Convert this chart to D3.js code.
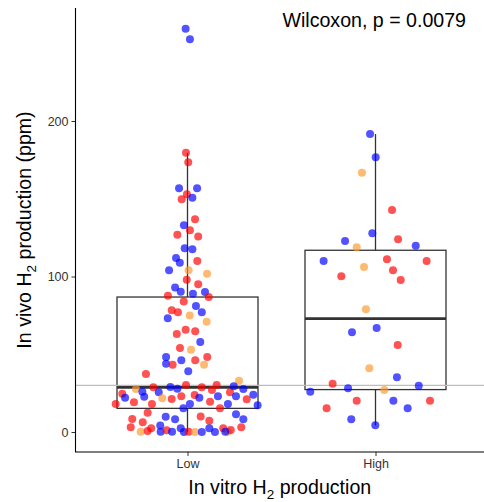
<!DOCTYPE html>
<html>
<head>
<meta charset="utf-8">
<script src="https://cdn.jsdelivr.net/npm/d3@7/dist/d3.min.js"></script>
<style>
  html, body { margin: 0; padding: 0; background: #fff; }
  svg { display: block; font-family: "Liberation Sans", Arial, Helvetica, sans-serif; }
</style>
</head>
<body>
<svg id="chart" width="484" height="502"></svg>
<script>
// Categories on the x axis
const categories = ["Low", "High"];
const yTicks = [0, 100, 200];
const threshold = 30;
const testLabel = "Wilcoxon, p = 0.0079";

// In vivo H2 (ppm) per animal, "Low" in vitro group
const lowValues = [
  259.4, 252.5, 179.6, 173.4, 156.7, 156.7, 152.9, 149.6, 150.7, 136.8,
  132.9, 129.7, 126.9, 125.8, 118.1, 117.5, 111.9, 110.0, 108.9, 104.0,
  104.0, 101.8, 97.9, 95.0, 93.0, 90.2, 88.9, 90.0, 87.7, 86.8,
  84.0, 81.0, 78.3, 77.0, 77.0, 75.0, 73.1, 70.9, 63.0, 65.8,
  64.8, 57.9, 54.0, 52.9, 48.2, 43.9, 43.3, 46.1, 46.1, 48.2,
  43.3, 39.0, 37.3, 33.0, 27.7, 24.6, 22.1, 18.0, 19.1, 25.9,
  22.7, 28.7, 18.0, 25.5, 21.7, 21.2, 28.9, 27.8, 23.0, 30.2,
  23.8, 22.1, 28.7, 19.5, 27.0, 30.2, 23.0, 15.2, 18.0, 25.5,
  29.4, 23.0, 27.7, 21.0, 24.0, 17.2, 15.2, 18.0, 8.4, 3.0,
  6.2, 12.4, 0.2, 0.6, 2.4, 9.8, 8.2, 4.1, 0.2, 1.1,
  0.2, 2.4, 0.0, 0.2, 0.0, 0.0, 10.0, 7.3, 2.4, 0.0,
  2.4, 0.2, 1.3, 11.4, 8.2, 3.0, 0.2
];
// Colour group of each "Low" animal (b, r, o)
const lowGroup = [
  "b","b","r","r","b","b","r","r","b","r",
  "b","r","r","r","b","b","b","r","b","b",
  "o","o","r","r","b","b","b","b","r","r",
  "r","b","r","r","b","o","b","o","r","r",
  "r","b","r","o","b","b","r","b","r","r",
  "o","b","r","o","o","r","b","r","r","b",
  "b","r","r","b","o","r","b","b","r","r",
  "r","b","r","r","r","r","b","r","b","r",
  "b","b","b","r","b","b","b","b","r","r",
  "r","r","o","r","r","b","b","b","b","r",
  "b","b","b","r","o","b","r","r","b","b",
  "r","o","r","b","b","r","b"
];
// Horizontal jitter of each "Low" point, in category widths
const lowJitter = [
  -0.010, 0.013, -0.008, 0.004, -0.045, 0.051, -0.003, -0.031, 0.026, 0.040,
  -0.019, 0.013, -0.054, 0.057, -0.015, 0.026, -0.061, 0.052, -0.041, -0.098,
  0.006, 0.104, -0.004, 0.057, -0.066, -0.036, 0.029, 0.093, -0.104, 0.113,
  -0.020, 0.045, -0.084, -0.051, 0.076, 0.012, -0.105, 0.102, -0.057, -0.010,
  0.041, 0.068, -0.040, 0.019, -0.114, -0.114, -0.079, -0.033, 0.041, 0.105,
  0.088, 0.004, -0.221, 0.274, -0.274, -0.347, -0.332, -0.382, -0.285, -0.240,
  -0.230, -0.182, -0.189, -0.153, -0.134, -0.084, -0.091, -0.054, -0.033, -0.008,
  0.038, 0.063, 0.076, 0.120, 0.130, 0.155, 0.162, 0.173, 0.215, 0.226,
  0.246, 0.258, 0.297, 0.315, 0.350, 0.373, -0.022, 0.013, -0.294, -0.302,
  -0.238, -0.212, -0.249, -0.212, -0.193, -0.116, -0.066, -0.145, -0.143, -0.111,
  -0.082, -0.036, -0.019, 0.006, 0.040, 0.076, 0.070, 0.116, 0.116, 0.146,
  0.190, 0.215, 0.230, 0.258, 0.297, 0.286, 0.201
];

// "High" in vitro group
const highValues = [
  191.6, 176.7, 166.8, 142.8, 127.8, 122.8, 123.9, 118.8, 119.8, 110.0,
  106.1, 111.1, 110.0, 104.0, 100.1, 97.7, 78.9, 64.1, 66.9, 55.9,
  41.0, 35.2, 31.1, 28.1, 27.0, 29.8, 25.9, 20.1, 20.1, 20.1,
  15.2, 15.2, 8.2, 4.3
];
const highGroup = [
  "b","b","o","r","b","b","r","o","b","b",
  "o","r","r","r","r","r","o","b","b","r",
  "o","b","r","b","o","b","b","r","b","r",
  "r","b","b","b"
];
const highJitter = [
  -0.029, 0.001, -0.072, 0.088, -0.017, -0.162, 0.120, -0.100, 0.214, -0.276,
  -0.061, 0.061, 0.272, 0.093, -0.182, 0.134, -0.051, -0.125, 0.006, 0.118,
  -0.033, 0.114, -0.228, -0.146, 0.047, 0.230, -0.347, -0.100, 0.095, 0.290,
  -0.260, 0.171, -0.129, -0.001
];

const groupColor = { b: "#0000ff", r: "#ff0000", o: "#ff9a2e" };

const svg = d3.select("#chart");
const panel = { left: 75.5, right: 484, top: 8, bottom: 452 };

const x = d3.scalePoint()
  .domain(categories)
  .range([74.7, 488.3])
  .padding(0.6);
const step = x.step();

const y = d3.scaleLinear().domain([0, 200]).range([432, 121]);

// Box statistics (R type-7 quantiles, 1.5 IQR whiskers)
function boxStats(values) {
  const s = values.slice().sort(d3.ascending);
  const q1 = d3.quantileSorted(s, 0.25);
  const med = d3.quantileSorted(s, 0.5);
  const q3 = d3.quantileSorted(s, 0.75);
  const iqr = q3 - q1;
  const lo = d3.min(s.filter(v => v >= q1 - 1.5 * iqr));
  const hi = d3.max(s.filter(v => v <= q3 + 1.5 * iqr));
  return { q1, med, q3, lo, hi };
}

const groups = [
  { cat: "Low", values: lowValues, colors: lowGroup, jitter: lowJitter },
  { cat: "High", values: highValues, colors: highGroup, jitter: highJitter }
];

const boxW = step * 0.75;
const boxColor = "#333333";

const gBox = svg.append("g");
groups.forEach(g => {
  const st = boxStats(g.values);
  const cx = x(g.cat);
  gBox.append("line")
    .attr("x1", cx).attr("x2", cx)
    .attr("y1", y(st.q3)).attr("y2", y(st.hi))
    .attr("stroke", boxColor).attr("stroke-width", 1.3);
  gBox.append("line")
    .attr("x1", cx).attr("x2", cx)
    .attr("y1", y(st.q1)).attr("y2", y(st.lo))
    .attr("stroke", boxColor).attr("stroke-width", 1.3);
  gBox.append("rect")
    .attr("x", cx - boxW / 2).attr("width", boxW)
    .attr("y", y(st.q3)).attr("height", y(st.q1) - y(st.q3))
    .attr("fill", "none").attr("stroke", boxColor).attr("stroke-width", 1.3);
  gBox.append("line")
    .attr("x1", cx - boxW / 2).attr("x2", cx + boxW / 2)
    .attr("y1", y(st.med)).attr("y2", y(st.med))
    .attr("stroke", boxColor).attr("stroke-width", 2.7);
});

// Reference threshold line
svg.append("line")
  .attr("x1", panel.left).attr("x2", panel.right)
  .attr("y1", y(threshold)).attr("y2", y(threshold))
  .attr("stroke", "#bdbdbd").attr("stroke-width", 1.2);

// Jittered points
const gPts = svg.append("g");
groups.forEach(g => {
  gPts.selectAll(null)
    .data(g.values.map((v, i) => ({ v, c: g.colors[i], j: g.jitter[i] })))
    .join("circle")
    .attr("cx", d => x(g.cat) + d.j * step)
    .attr("cy", d => y(d.v))
    .attr("r", 4)
    .attr("fill", d => groupColor[d.c])
    .attr("fill-opacity", 0.68);
});

// Axes
const yAxis = d3.axisLeft(y).tickValues(yTicks).tickSize(4).tickPadding(3);
const gy = svg.append("g").attr("transform", `translate(${panel.left},0)`).call(yAxis);
gy.select(".domain").remove();
gy.append("line").attr("x1", 0).attr("x2", 0)
  .attr("y1", panel.top).attr("y2", panel.bottom)
  .attr("stroke", "#000").attr("stroke-width", 1.1);

const xAxis = d3.axisBottom(x).tickSize(4).tickPadding(3);
const gx = svg.append("g").attr("transform", `translate(0,${panel.bottom})`).call(xAxis);
gx.select(".domain").remove();
gx.append("line").attr("x1", panel.left - 0.5).attr("x2", panel.right)
  .attr("y1", 0).attr("y2", 0)
  .attr("stroke", "#000").attr("stroke-width", 1.1);

[gx, gy].forEach(g => {
  g.selectAll(".tick line").attr("stroke", "#333");
  g.selectAll(".tick text").attr("fill", "#333")
    .style("font-size", "12.5px")
    .style("font-family", "'Liberation Sans', Arial, sans-serif");
});

// Axis titles
const titleSize = "19.6px";
const subSize = "13.5px";
const xt = svg.append("text")
  .attr("x", (panel.left + panel.right) / 2)
  .attr("y", 494)
  .attr("text-anchor", "middle")
  .style("font-size", titleSize)
  .attr("fill", "#000");
xt.append("tspan").text("In vitro H");
xt.append("tspan").attr("dy", 4.5).style("font-size", subSize).text("2");
xt.append("tspan").attr("dy", -4.5).text(" production");

const yt = svg.append("text")
  .attr("transform", `translate(31,${(panel.top + panel.bottom) / 2}) rotate(-90)`)
  .attr("text-anchor", "middle")
  .style("font-size", titleSize)
  .attr("fill", "#000");
yt.append("tspan").text("In vivo H");
yt.append("tspan").attr("dy", 4.5).style("font-size", subSize).text("2");
yt.append("tspan").attr("dy", -4.5).text(" production (ppm)");

// Test annotation
svg.append("text")
  .attr("x", 466).attr("y", 27)
  .attr("text-anchor", "end")
  .style("font-size", titleSize)
  .attr("fill", "#000")
  .text(testLabel);
</script>
</body>
</html>
